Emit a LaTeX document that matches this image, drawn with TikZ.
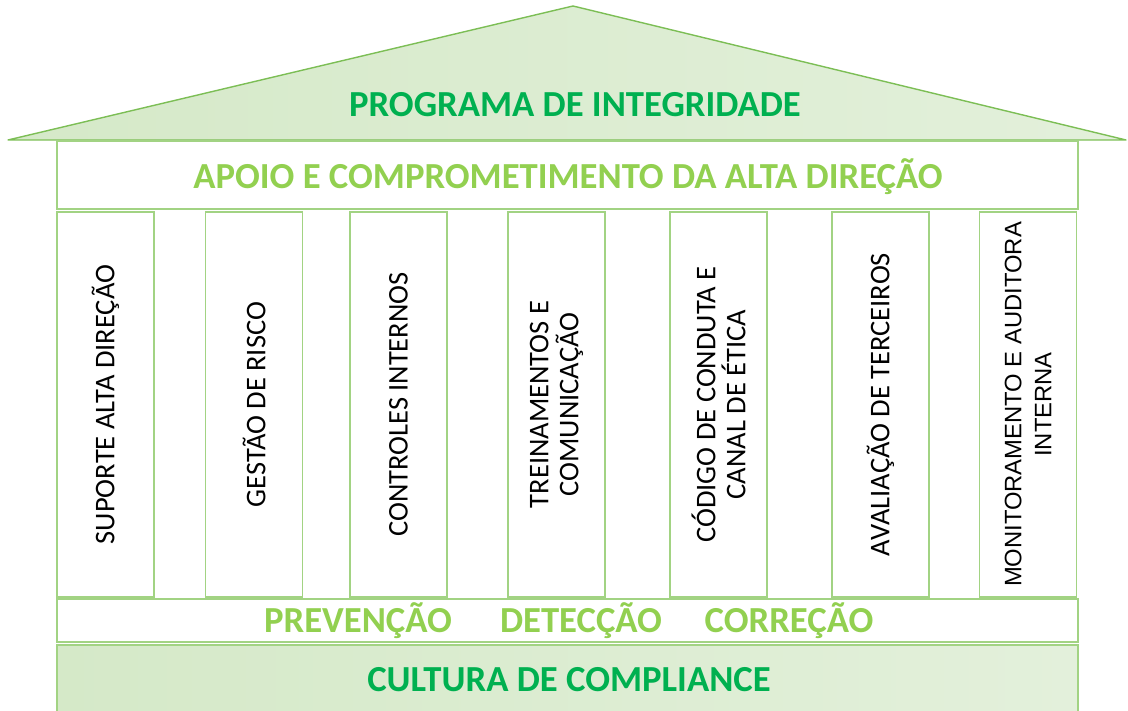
\documentclass[tikz,border=0pt]{standalone}
\usepackage{fontspec}
\setmainfont{Carlito}
\newfontfamily\arialfont{Liberation Sans}
\usetikzlibrary{positioning}

\definecolor{roofline}{HTML}{7CBE55}
\definecolor{pillarline}{HTML}{A2D383}
\definecolor{darkgreen}{HTML}{00B050}
\definecolor{lightgreen}{HTML}{92D050}
\definecolor{shadeA}{HTML}{D5E9C8}
\definecolor{shadeB}{HTML}{C0DCAD}
\definecolor{shadeC}{HTML}{E3F0DB}

\tikzset{
    band/.style={draw=pillarline, line width=1.6pt, fill=white, minimum width=1021pt, inner sep=0pt},
    pillar/.style={draw=pillarline, line width=1.6pt, fill=white, rotate=90, minimum width=385pt,
        minimum height=97pt, inner sep=0pt, align=center, font=\fontsize{28.5}{30}\selectfont},
    title/.style={text=darkgreen, font=\fontsize{36.7}{40}\selectfont\bfseries},
    subtitle/.style={text=lightgreen, font=\fontsize{36.7}{40}\selectfont\bfseries},
}

\begin{document}
\begin{tikzpicture}[x=1pt, y=1pt]
    \useasboundingbox (0,0) rectangle (1128,711);
    % roof
    \coordinate (apex) at (573,705);
    \coordinate (eaveL) at (8,571);
    \coordinate (eaveR) at (1126,571);
    \shade[left color=shadeA, middle color=shadeB, right color=shadeC] (eaveL) -- (apex) -- (eaveR) -- cycle;
    \draw[roofline, line width=1.4pt, line join=round] (eaveL) -- (apex) -- (eaveR) -- cycle;
    \node[title] (roof) at (575,606) {PROGRAMA DE INTEGRIDADE};

    % top band
    \node[band, minimum height=68pt] (apoio) at (567.5,536) {};
    \node[subtitle] (apoiotxt) at (568,534) {APOIO E COMPROMETIMENTO DA ALTA DIREÇÃO};

    % pillars
    \node[pillar] (p1) at (105.5,306.5) {SUPORTE ALTA DIREÇÃO};
    \node[pillar] (p2) at (254,306.5) {GESTÃO DE RISCO};
    \node[pillar] (p3) at (398.5,306.5) {CONTROLES INTERNOS};
    \node[pillar] (p4) at (556.5,306.5) {TREINAMENTOS E\\COMUNICAÇÃO};
    \node[pillar] (p5) at (718.5,306.5) {CÓDIGO DE CONDUTA E\\CANAL DE ÉTICA};
    \node[pillar] (p6) at (880.5,306.5) {AVALIAÇÃO DE TERCEIROS};
    \node[pillar, font=\arialfont\fontsize{23.8}{30}\selectfont] (p7) at (1028,306.5) {MONITORAMENTO E AUDITORA\\INTERNA};

    % lower band
    \node[band, minimum height=43pt] (fases) at (567.5,90.5) {};
    \node[subtitle] (prev) at (358,90) {PREVENÇÃO};
    \node[subtitle] (det) at (581,90) {DETECÇÃO};
    \node[subtitle] (corr) at (789,90) {CORREÇÃO};

    % base
    \node[band, draw=pillarline, minimum height=80pt, left color=shadeA, middle color=shadeB, right color=shadeC] (cultura) at (567.5,26) {};
    \node[title] (culturatxt) at (569,31) {CULTURA DE COMPLIANCE};
\end{tikzpicture}
\end{document}
